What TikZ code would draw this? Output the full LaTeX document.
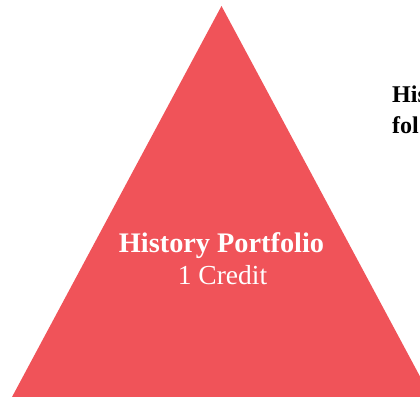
\documentclass[tikz,border=0pt]{standalone}
\usepackage{fontspec}
\setmainfont{Liberation Serif}
\definecolor{tri}{RGB}{240,83,89}
\begin{document}
\begin{tikzpicture}[x=1pt,y=-1pt]
\tikzset{
  label/.style={text=white, align=center, inner sep=0pt},
  side/.style={anchor=base west, inner sep=0pt, font=\fontsize{24}{28}\selectfont\bfseries}
}
\useasboundingbox (0,0) rectangle (420,396);
\clip (0,0) rectangle (420,396);
\fill[tri] (221.5,6) -- (431,397) -- (12,397) -- cycle;
\node[label, anchor=base, font=\fontsize{28.3}{32}\selectfont\bfseries] (t1) at (221.5,252) {History Portfolio};
\node[label, anchor=base, font=\fontsize{27.5}{30}\selectfont] (t2) at (222.5,284) {1 Credit};
\node[side] (r1) at (392,102) {His};
\node[side] (r2) at (392,133) {fol};
\end{tikzpicture}
\end{document}
